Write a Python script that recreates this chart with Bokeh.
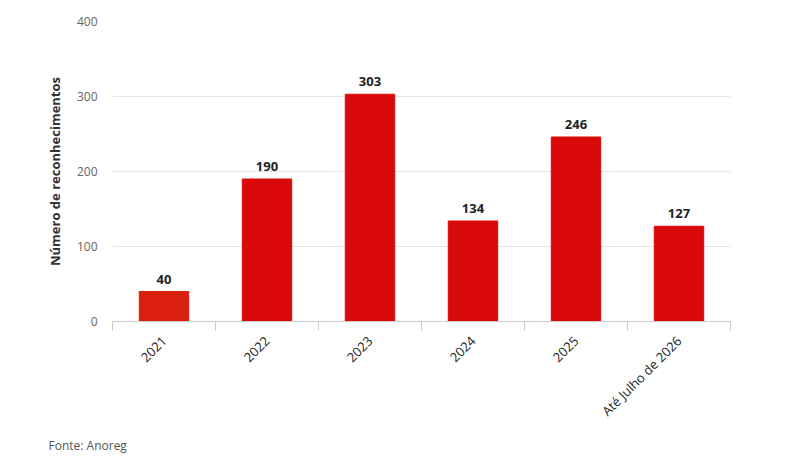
import math
from bokeh.plotting import figure
from bokeh.models import ColumnDataSource, Range1d, FixedTicker, Title
from bokeh.core.properties import value
from bokeh.embed import file_html
from bokeh.resources import INLINE

categories = ["2021", "2022", "2023", "2024", "2025", "Até Julho de 2026"]
counts = [40, 190, 303, 134, 246, 127]
bar_colors = ["#d91f0e", "#d90909", "#d90909", "#d90909", "#d90909", "#d90909"]
y_ticks = [0, 100, 200, 300, 400]

FONT = "Open Sans"

positions = [i + 0.5 for i in range(len(categories))]
source = ColumnDataSource(dict(
    x=positions, top=counts, color=bar_colors,
    label=[str(c) for c in counts],
))

p = figure(width=800, height=465, output_backend="svg", toolbar_location=None,
           x_range=Range1d(0, len(categories)), y_range=Range1d(0, 400),
           min_border_left=112, min_border_right=70, min_border_top=21,
           min_border_bottom=144)
p.outline_line_color = None
p.background_fill_color = "white"
p.border_fill_color = "white"

p.vbar(x="x", top="top", bottom=0, width=0.48, fill_color="color",
       line_color="color", line_width=1, source=source)

p.text(x="x", y="top", text="label", source=source, text_align="center",
       text_baseline="bottom", y_offset=-8, text_font=value(FONT),
       text_font_size="13px", text_font_style="bold", text_color="#222222")

# x axis
xa = p.xaxis[0]
xa.ticker = FixedTicker(ticks=positions,
                        minor_ticks=list(range(len(categories) + 1)))
xa.major_label_overrides = {p_: c for p_, c in zip(positions, categories)}
xa.major_label_orientation = math.pi / 4
xa.major_tick_line_color = None
xa.major_tick_out = 0
xa.major_tick_in = 0
xa.minor_tick_line_color = "#cccccc"
xa.minor_tick_out = 9
xa.minor_tick_in = 0
xa.axis_line_color = "#cccccc"
xa.major_label_text_font = FONT
xa.major_label_text_font_size = "13px"
xa.major_label_text_color = "#222222"
xa.major_label_standoff = 8

# y axis
ya = p.yaxis[0]
ya.ticker = FixedTicker(ticks=y_ticks)
ya.axis_line_color = None
ya.major_tick_line_color = None
ya.minor_tick_line_color = None
ya.major_tick_out = 0
ya.major_label_standoff = 15
ya.major_label_text_font = FONT
ya.major_label_text_font_size = "12px"
ya.major_label_text_color = "#666666"
ya.axis_label = "Número de reconhecimentos"
ya.axis_label_text_font = FONT
ya.axis_label_text_font_size = "13px"
ya.axis_label_text_font_style = "bold"
ya.axis_label_text_color = "#333333"
ya.axis_label_standoff = 10

p.xgrid.grid_line_color = None
p.ygrid.grid_line_color = "#e6e6e6"
p.ygrid.ticker = FixedTicker(ticks=y_ticks[1:])

p.add_layout(Title(text="Fonte: Anoreg", align="left", offset=-64,
                   text_font=FONT, text_font_size="12px",
                   text_font_style="normal", text_color="#555555",
                   standoff=10), "below")

open("out.html", "w").write(file_html(p, INLINE))
